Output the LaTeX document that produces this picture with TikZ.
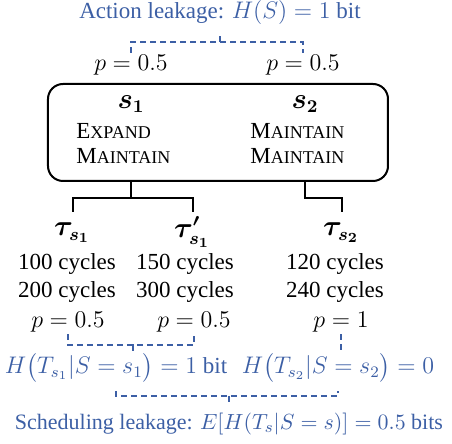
\documentclass[tikz,border=0pt]{standalone}
\usepackage{amsmath}
\usepackage{fontspec}
\setmainfont{Liberation Serif}
\usepackage{bm}
\usepackage{tikz}
\definecolor{leakblue}{RGB}{60,95,165}
\tikzset{txt/.style={inner sep=1pt, font=\fontsize{11.5}{13}\selectfont}}
\tikzset{sym/.style={inner sep=0.5pt, font=\fontsize{13.5}{15}\selectfont}}
\tikzset{leak/.style={leakblue, dash pattern=on 3pt off 2pt, line width=0.75pt}}
\tikzset{branch/.style={line width=1pt}}
\newcommand{\fsc}[2]{#1{\fontsize{9}{10}\selectfont #2}}

\begin{document}
\begin{tikzpicture}[x=0.5pt, y=-0.5pt]
\useasboundingbox (0,0) rectangle (452,444);

	\node[txt, leakblue] (act) at (220,13) {Action leakage: $H(S) = 1$ bit};
	\node[txt] (pL) at (131,65) {$p = 0.5$};
	\node[txt] (pR) at (303,65) {$p = 0.5$};

	\coordinate (ta) at (220,42);
	\draw[leak] (pL.north) |- (ta) -| (pR.north);
	\draw[leak] (ta) -- ++(0,-7);


	\node[draw, line width=1pt, rounded corners=7.5pt, minimum width=170pt, minimum height=48.5pt] (box) at (218,132.5) {};

	\node[sym] (s1) at (131,104) {$\bm{s_1}$};
	\node[txt, anchor=west] (e1) at (74,131) {\fsc{E}{XPAND}};
	\node[txt, anchor=west] (m1) at (74,156) {\fsc{M}{AINTAIN}};

	\node[sym] (s2) at (305,104) {$\bm{s_2}$};
	\node[txt, anchor=west] (m2a) at (248,131) {\fsc{M}{AINTAIN}};
	\node[txt, anchor=west] (m2b) at (248,156) {\fsc{M}{AINTAIN}};


	\node[sym] (t1) at (72,233) {$\bm{\tau_{s_1}}$};
	\node[sym] (t1p) at (192,232) {$\bm{\tau'_{s_1}}$};
	\node[sym] (t2) at (341,233) {$\bm{\tau_{s_2}}$};
	\coordinate (t1top) at (73,212);
	\coordinate (t1ptop) at (193,212);
	\coordinate (t2top) at (342,212);

	\draw[branch] (box.south -| s1) -- ++(0,16) coordinate (j1);
	\draw[branch] (t1top) |- (j1) -| (t1ptop);
	\draw[branch] (box.south -| s2) -- ++(0,16) -| (t2top);


	\node[txt] (c1a) at (67,264) {100 cycles};
	\node[txt] (c1b) at (67,292) {200 cycles};
	\node[txt] (p1) at (68,322) {$p = 0.5$};

	\node[txt] (c2a) at (185,264) {150 cycles};
	\node[txt] (c2b) at (185,292) {300 cycles};
	\node[txt] (p2) at (194,322) {$p = 0.5$};

	\node[txt] (c3a) at (335,264) {120 cycles};
	\node[txt] (c3b) at (335,292) {240 cycles};
	\node[txt] (p3) at (341,322) {$p = 1$};


	\node[txt, leakblue] (h1) at (116,368) {$H\bigl(T_{s_1}|S = s_1\bigr) = 1$ bit};
	\node[txt, leakblue] (h2) at (338,368) {$H\bigl(T_{s_2}|S = s_2\bigr) = 0$};
	\node[txt, leakblue, font=\fontsize{11}{13}\selectfont] (sch) at (229,424) {Scheduling leakage: $E[H(T_s|S = s)] = 0.5$ bits};

	\coordinate (tb) at (133,345);
	\draw[leak] (p1.south) |- (tb) -| (p2.south);
	\draw[leak] (tb) -- ++(0,8);
	\draw[leak] (p3.south) -- (p3.south |- h2.north);

	\coordinate (tc) at (229,396);
	\draw[leak, shorten <=3pt, shorten >=3pt] (h1.south) |- (tc) -| (h2.south);
	\draw[leak] (tc) -- ++(0,6);

\end{tikzpicture}
\end{document}
